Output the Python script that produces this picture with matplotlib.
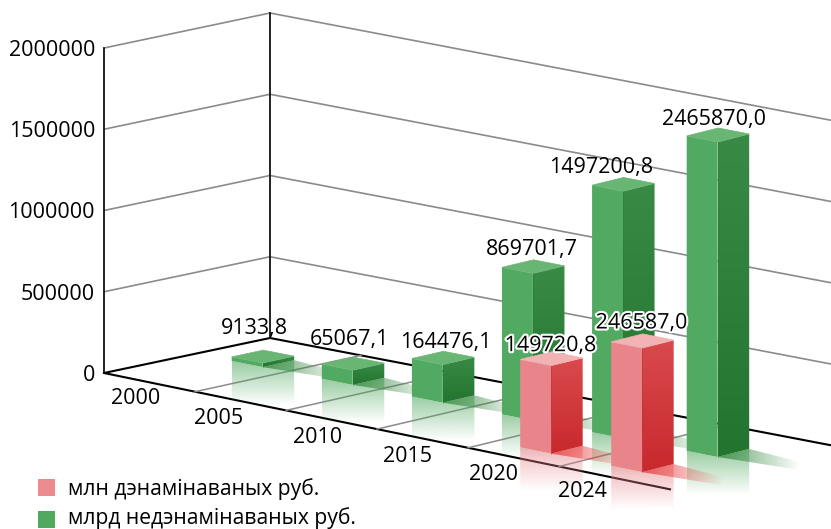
import numpy as np
import matplotlib
matplotlib.use('Agg')
import matplotlib.pyplot as plt
import matplotlib.patheffects as pe
from matplotlib.colors import to_rgb
from matplotlib.patches import Polygon, Rectangle

years = ['2000', '2005', '2010', '2015', '2020', '2024']
y_ticks = [0, 500000, 1000000, 1500000, 2000000]

# the bars are not to scale with their captions, so heights are read off the picture
green_heights = [25000, 90000, 234000, 905000, 1520000, 1938000]
red_heights = [np.nan, np.nan, np.nan, np.nan, 541000, 763000]
green_labels = ['9133,8', '65067,1', '164476,1', '869701,7', '1497200,8', '2465870,0']
red_labels = ['', '', '', '', '149720,8', '246587,0']

legend_names = ['млн дэнамінаваных руб.', 'млрд недэнамінаваных руб.']

FONT = 'Open Sans'
FS = 15.5
PX_PER_UNIT = 162.5 / 1e6


def project(u, v, h=0):
    # oblique view: u along the years, v into the depth, h upwards
    x = 104 + 91 * u + 166 * v
    y = 373 + u * (18.7 - 1.3 * v) - 35 * v - h * PX_PER_UNIT
    return x, y


def gradient_poly(ax, verts, c0, c1, a0=1.0, a1=1.0, horizontal=False, zorder=2):
    verts = np.array(verts)
    x0, y0 = verts.min(axis=0)
    x1, y1 = verts.max(axis=0)
    t = np.linspace(0, 1, 64)
    rgba = np.zeros((64, 4))
    for i in range(3):
        rgba[:, i] = to_rgb(c0)[i] + (to_rgb(c1)[i] - to_rgb(c0)[i]) * t
    rgba[:, 3] = a0 + (a1 - a0) * t
    img = rgba[None, :, :] if horizontal else rgba[:, None, :]
    im = ax.imshow(img, extent=(x0, x1, y1, y0), origin='upper', aspect='auto',
                   interpolation='bilinear', zorder=zorder)
    clip = Polygon(verts, transform=ax.transData, fill=False, edgecolor='none')
    ax.add_patch(clip)
    im.set_clip_path(clip)


def draw_bar(ax, u0, v0, du, dv, h, colors, zorder):
    base = [project(u0, v0), project(u0 + du, v0), project(u0 + du, v0 + dv), project(u0, v0 + dv)]
    top = [project(u0, v0, h), project(u0 + du, v0, h), project(u0 + du, v0 + dv, h), project(u0, v0 + dv, h)]

    # floor reflection under the two visible faces
    down = 44
    refl = [base[0], base[1], base[2], (base[2][0], base[2][1] + down), (base[0][0], base[0][1] + down)]
    gradient_poly(ax, refl, colors['left'], colors['left'], 0.6, 0.0, zorder=1.6)

    # smear on the floor next to the bar
    sx, sy = project(u0 + du + 0.72, v0 + dv * 0.5)
    sy2 = sy - project(u0 + du, v0 + dv * 0.5)[1]
    shadow = [base[1], base[2], (sx, base[2][1] + sy2), (sx, base[1][1] + sy2)]
    gradient_poly(ax, shadow, colors['shadow'], colors['shadow'], 0.8, 0.0,
                  horizontal=True, zorder=1.7)

    ax.add_patch(Polygon([base[0], base[1], top[1], top[0]], closed=True,
                         facecolor=colors['left'], edgecolor='none', zorder=zorder))
    gradient_poly(ax, [base[1], base[2], top[2], top[1]], colors['right0'], colors['right1'],
                  zorder=zorder)
    ax.add_patch(Polygon(top, closed=True, facecolor=colors['top'], edgecolor=colors['top'],
                         lw=0.5, zorder=zorder + 0.01))
    ax.plot([top[1][0], base[1][0]], [top[1][1], base[1][1]], color=colors['right1'], lw=0.5,
            alpha=0.5, zorder=zorder + 0.02)


green = dict(left='#52a961', right0='#388a45', right1='#22742f', top='#69b674', shadow='#3a8a45')
red = dict(left='#e9858a', right0='#d94a4d', right1='#c8292d', top='#f3b2b4', shadow='#e8403f')

fig = plt.figure(figsize=(8.31, 5.29), dpi=100)
ax = fig.add_axes([0, 0, 1, 1])
ax.set_xlim(0, 831)
ax.set_ylim(529, 0)
ax.axis('off')

n = len(years)
u_end_front = 6.22
u_end_back = 6.165
GRAY = '#8c8a8a'

# walls
for t in y_ticks:
    col = 'black' if t == 0 else GRAY
    lw = 1.5 if t == 0 else 1.2
    xs, ys = zip(project(0, 0, t), project(0, 1, t), project(u_end_back, 1, t))
    ax.plot(xs, ys, color=col, lw=lw, solid_capstyle='butt', zorder=1.5)
    ax.text(95, project(0, 0, t)[1] + 2.5, f'{t}', ha='right', va='center', fontsize=FS, family=FONT)

top_val = y_ticks[-1]
for v in (0, 1):
    xs, ys = zip(project(0, v), project(0, v, top_val))
    ax.plot(xs, ys, color='#111111', lw=1.3, zorder=1.5)

# floor
xs, ys = zip(project(0, 0), project(u_end_front, 0))
ax.plot(xs, ys, color='black', lw=1.5, zorder=1.5)
for i in range(1, n):
    xs, ys = zip(project(i, 0), project(i, 1))
    ax.plot(xs, ys, color=GRAY, lw=1.1, zorder=1.5)

year_offsets = [(32, 26), (24, 27), (32, 27), (30, 27), (25, 27), (23, 25)]
for i, label in enumerate(years):
    x, y = project(i, 0)
    ax.text(x + year_offsets[i][0], y + year_offsets[i][1], label, ha='center', va='center',
            fontsize=FS, family=FONT, zorder=6)

# the last green bar sits a little apart from the others in the original
green_slots = [0, 0.99, 1.98, 2.97, 3.96, 5.0]

# bars, back row first
for i, h in enumerate(green_heights):
    draw_bar(ax, green_slots[i] + 0.40, 0.55, 0.34, 0.19, h, green, 3 + i * 0.1)
for i, h in enumerate(red_heights):
    if not np.isnan(h):
        draw_bar(ax, i + 0.30, 0.15, 0.34, 0.19, h, red, 4 + i * 0.1)

# captions, shifted by hand where the original moved them
green_offsets = [(-9, -28), (-4, -24), (3, -15), (-1, -17), (-22, -17), (-4, -15)]
red_offsets = [(0, 0), (0, 0), (0, 0), (0, 0), (-1, -13), (-1, -18)]
halo = [pe.withStroke(linewidth=3, foreground='white')]
for i, label in enumerate(green_labels):
    x, y = project(green_slots[i] + 0.57, 0.645, green_heights[i])
    ax.text(x + green_offsets[i][0], y + green_offsets[i][1], label, ha='center', va='center',
            fontsize=FS, family=FONT, zorder=7)
for i, label in enumerate(red_labels):
    if label:
        x, y = project(i + 0.47, 0.245, red_heights[i])
        ax.text(x + red_offsets[i][0], y + red_offsets[i][1], label, ha='center', va='center',
                fontsize=FS, family=FONT, zorder=8, path_effects=halo)

# legend, second line pulled up a bit so the descenders stay on the canvas
for name, col, y, text_y in zip(legend_names, ['#ec8a8d', '#50a95f'], [479, 511], [489, 518]):
    ax.add_patch(Rectangle((38, y), 17, 17, facecolor=col, edgecolor='none', zorder=6))
    ax.text(68, text_y, name, ha='left', va='center', fontsize=15.2, family=FONT, zorder=6)

ax.set_xlim(0, 831)
ax.set_ylim(529, 0)
fig.savefig('out.png', dpi=100)
